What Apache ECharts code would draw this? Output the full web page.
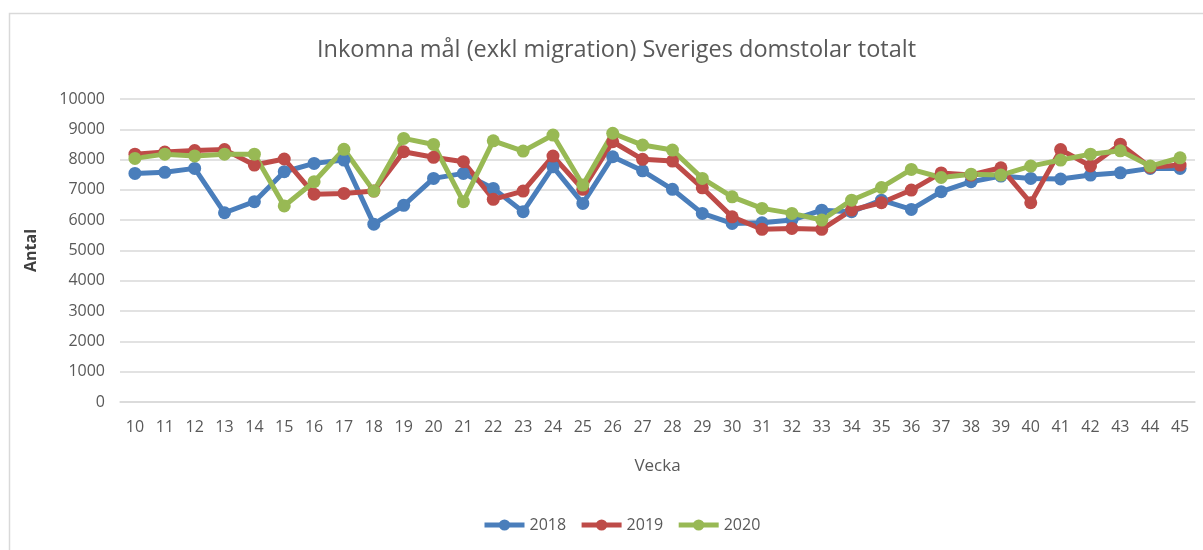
<!DOCTYPE html>
<html>
<head>
<meta charset="utf-8">
<script src="https://cdn.jsdelivr.net/npm/echarts@6/dist/echarts.min.js"></script>
<style>
html,body{margin:0;padding:0;background:#fff;}
#chart{width:1203px;height:550px;}
</style>
</head>
<body>
<div id="chart"></div>
<script>
const weeks = ['10','11','12','13','14','15','16','17','18','19','20','21','22','23','24','25','26','27','28','29','30','31','32','33','34','35','36','37','38','39','40','41','42','43','44','45'];
const s2018 = [7545,7580,7710,6245,6610,7600,7875,7985,5870,6490,7380,7545,7050,6280,7760,6555,8095,7630,7020,6225,5895,5915,6005,6330,6280,6660,6355,6940,7270,7455,7380,7360,7490,7565,7710,7710];
const s2019 = [8180,8250,8300,8330,7820,8020,6860,6885,6960,8260,8075,7930,6690,6960,8115,7020,8590,8010,7950,7070,6110,5700,5730,5700,6335,6575,6995,7560,7490,7730,6575,8330,7790,8510,7745,7820];
const s2020 = [8040,8180,8120,8180,8180,6470,7270,8340,6960,8700,8500,6610,8620,8280,8810,7160,8870,8480,8315,7380,6770,6390,6225,6005,6660,7080,7675,7410,7520,7490,7785,7985,8180,8290,7785,8060];
const years = ['2018','2019','2020'];
const colors = ['#4A7EBB','#BE4B48','#98B954'];

const chart = echarts.init(document.getElementById('chart'), null, {renderer:'canvas'});
const font = "'Open Sans', 'Noto Sans', sans-serif";
function mk(name, data, color){
  return {
    name: name, type: 'line', data: data,
    symbol: 'circle', symbolSize: 13,
    lineStyle: {width: 5, color: color},
    itemStyle: {color: color},
    emphasis: {disabled: true}
  };
}
chart.setOption({
  animation: false,
  color: colors,
  graphic: [{
    type: 'rect', left: 7, top: 11, silent: true,
    shape: {width: 1210, height: 560},
    style: {fill: 'none', stroke: '#d9d9d9', lineWidth: 1.5}
  }],
  title: {
    text: 'Inkomna mål (exkl migration) Sveriges domstolar totalt',
    left: 312, top: 33,
    textStyle: {fontFamily: font, fontWeight: 'normal', fontSize: 23.5, color: '#595959'}
  },
  legend: {
    data: years, bottom: 12, left: 477,
    itemWidth: 40, itemHeight: 14, itemGap: 13,
    lineStyle: {width: 5},
    textStyle: {fontFamily: font, fontSize: 16, color: '#595959'}
  },
  grid: {left: 120, right: 8, top: 99, bottom: 148, containLabel: false},
  xAxis: {
    type: 'category', data: weeks, boundaryGap: true,
    name: 'Vecka', nameLocation: 'middle', nameGap: 56,
    nameTextStyle: {fontFamily: font, fontSize: 17, color: '#595959'},
    axisLine: {show: true, lineStyle: {color: '#d9d9d9', width: 1.5}},
    axisTick: {show: false},
    axisLabel: {fontFamily: font, fontSize: 16, color: '#595959', margin: 17, interval: 0}
  },
  yAxis: {
    type: 'value', min: 0, max: 10000, interval: 1000,
    name: 'Antal', nameLocation: 'middle', nameGap: 81, nameRotate: 90,
    nameTextStyle: {fontFamily: font, fontSize: 16, color: '#404040', fontWeight: 'bold'},
    axisLine: {show: false}, axisTick: {show: false},
    axisLabel: {fontFamily: font, fontSize: 16, color: '#595959', margin: 15, formatter: function(v){ return String(v); }},
    splitLine: {lineStyle: {color: '#d9d9d9', width: 1.5}}
  },
  series: [mk(years[0], s2018, colors[0]), mk(years[1], s2019, colors[1]), mk(years[2], s2020, colors[2])]
});
</script>
</body>
</html>
